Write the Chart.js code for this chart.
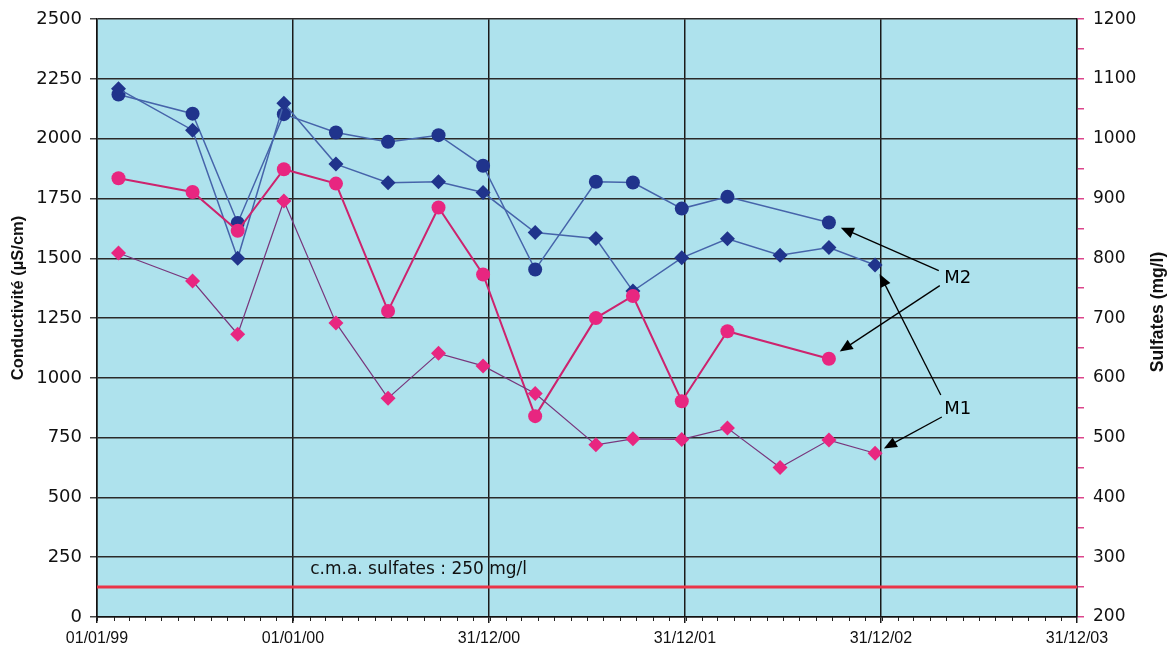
<!DOCTYPE html>
<html>
<head>
<meta charset="utf-8">
<script src="https://cdn.jsdelivr.net/npm/chart.js@4"></script>
<style>
  html, body { margin: 0; padding: 0; background: #fff; }
  #wrap { width: 1172px; height: 653px; }
</style>
</head>
<body>
<div id="wrap"><canvas id="myChart" width="1172" height="653"></canvas></div>
<script>
// sampling dates (dd/mm/yy)
const sampleDates = ['10/02/99', '28/06/99', '20/09/99', '15/12/99', '21/03/00', '26/06/00', '28/09/00', '20/12/00',
                     '27/03/01', '18/07/01', '25/09/01', '25/12/01', '20/03/02', '26/06/02', '25/09/02', '20/12/02'];

// conductivity (µS/cm)
const condM1 = [2209, 2036, 1500, 2148, 1894, 1816, 1820, 1775, 1608, 1583, 1363, 1502, 1582, 1513, 1545, 1472];
const condM2 = [2185, 2105, 1648, 2103, 2026, 1987, 2015, 1887, 1453, 1820, 1817, 1708, 1757, null, 1650, null];

// sulfates (mg/l)
const sulfM1 = [809, 762, 673, 896, 692, 566, 641, 620, 574, 488, 498, 497, 516, 450, 496, 474];
const sulfM2 = [934, 911, 846, 949, 925, 712, 885, 773, 536, 700, 737, 561, 678, null, 632, null];

// c.m.a. sulfates
const sulfLimit = 250;

const xTickLabels = ['01/01/99', '01/01/00', '31/12/00', '31/12/01', '31/12/02', '31/12/03'];

// days since 01/01/99
const T0 = Date.UTC(1999, 0, 1);
function toDay(s) {
  const [d, m, y] = s.split('/').map(Number);
  return (Date.UTC(y > 50 ? 1900 + y : 2000 + y, m - 1, d) - T0) / 864e5;
}
const days = sampleDates.map(toDay);
const xTicks = xTickLabels.map(toDay);
const pts = vals => vals.map((v, i) => ({ x: days[i], y: v }));

const BG = 'rgb(174,226,237)';
const NAVY = 'rgb(32,52,140)';
const PINK = 'rgb(232,38,128)';

const chartDecor = {
  id: 'chartDecor',
  beforeDraw(chart) {
    const { ctx, chartArea: a } = chart;
    ctx.save();
    ctx.fillStyle = BG;
    ctx.fillRect(a.left, a.top, a.right - a.left, a.bottom - a.top);
    ctx.restore();
  },
  afterDraw(chart) {
    const { ctx, chartArea: a, scales } = chart;
    const x = scales.x, y = scales.y, y1 = scales.y1;
    ctx.save();

    // monthly minor ticks under the time axis
    ctx.strokeStyle = '#222';
    ctx.lineWidth = 1;
    for (let yr = 1999; yr <= 2003; yr++) {
      for (let m = 0; m < 12; m++) {
        const px = Math.round(x.getPixelForValue((Date.UTC(yr, m, 1) - T0) / 864e5)) + 0.5;
        ctx.beginPath();
        ctx.moveTo(px, a.bottom);
        ctx.lineTo(px, a.bottom + 4);
        ctx.stroke();
      }
    }

    // limit label
    ctx.fillStyle = '#111';
    ctx.font = '17px "DejaVu Sans"';
    ctx.textAlign = 'left';
    ctx.textBaseline = 'alphabetic';
    ctx.fillText('c.m.a. sulfates : ' + sulfLimit + ' mg/l', x.getPixelForValue(397), y1.getPixelForValue(sulfLimit) - 13);

    // M1 / M2 callouts
    const last = (vals) => { let i = vals.length - 1; while (vals[i] == null) i--; return i; };
    const callouts = [
      { text: 'M2', lx: 1603, ly: 1415, targets: [
        { scale: y, vals: condM2, tail: [-19, -8], gap: 13 },
        { scale: y1, vals: sulfM2, tail: [-18, 7], gap: 13 } ] },
      { text: 'M1', lx: 1603, ly: 870, targets: [
        { scale: y, vals: condM1, tail: [-17, -14], gap: 10 },
        { scale: y1, vals: sulfM1, tail: [-16, 8], gap: 10 } ] }
    ];
    ctx.font = '18px "DejaVu Sans"';
    ctx.textAlign = 'center';
    ctx.textBaseline = 'middle';
    ctx.strokeStyle = '#000';
    ctx.fillStyle = '#000';
    ctx.lineWidth = 1.3;
    callouts.forEach(c => {
      const cx = x.getPixelForValue(c.lx), cy = y.getPixelForValue(c.ly);
      ctx.fillText(c.text, cx, cy);
      c.targets.forEach(t => {
        const i = last(t.vals);
        const px = x.getPixelForValue(days[i]), py = t.scale.getPixelForValue(t.vals[i]);
        const tx = cx + t.tail[0], ty = cy + t.tail[1];
        const dx = tx - px, dy = ty - py, len = Math.hypot(dx, dy);
        const ux = dx / len, uy = dy / len;
        const hx = px + ux * t.gap, hy = py + uy * t.gap;
        ctx.beginPath();
        ctx.moveTo(tx, ty);
        ctx.lineTo(hx + ux * 10, hy + uy * 10);
        ctx.stroke();
        // arrow head
        ctx.beginPath();
        ctx.moveTo(hx, hy);
        ctx.lineTo(hx + ux * 13 - uy * 5.5, hy + uy * 13 + ux * 5.5);
        ctx.lineTo(hx + ux * 13 + uy * 5.5, hy + uy * 13 - ux * 5.5);
        ctx.closePath();
        ctx.fill();
      });
    });

    // axis titles, both read bottom to top
    ctx.font = 'bold 16.5px "Liberation Sans"';
    ctx.fillStyle = '#111';
    ctx.textAlign = 'center';
    ctx.textBaseline = 'middle';
    ctx.save();
    ctx.translate(18, 298);
    ctx.rotate(-Math.PI / 2);
    ctx.fillText('Conductivité (µS/cm)', 0, 0);
    ctx.restore();
    ctx.save();
    ctx.font = 'bold 17.5px "Liberation Sans"';
    ctx.translate(1158, 312);
    ctx.rotate(-Math.PI / 2);
    ctx.fillText('Sulfates (mg/l)', 0, 0);
    ctx.restore();

    ctx.restore();
  }
};

new Chart(document.getElementById('myChart'), {
  type: 'line',
  data: {
    datasets: [
      {
        label: 'c.m.a.',
        data: [{ x: 0, y: sulfLimit }, { x: xTicks[xTicks.length - 1], y: sulfLimit }],
        yAxisID: 'y1',
        borderColor: 'rgb(234,52,72)',
        borderWidth: 3,
        pointRadius: 0
      },
      {
        label: 'Sulfates M1',
        data: pts(sulfM1),
        yAxisID: 'y1',
        borderColor: 'rgb(120,55,125)',
        borderWidth: 1.2,
        pointStyle: 'rectRot',
        pointRadius: 7.5,
        pointBackgroundColor: PINK,
        pointBorderColor: PINK,
        pointBorderWidth: 0
      },
      {
        label: 'Sulfates M2',
        data: pts(sulfM2),
        yAxisID: 'y1',
        spanGaps: true,
        borderColor: 'rgb(205,35,110)',
        borderWidth: 2,
        pointStyle: 'circle',
        pointRadius: 7,
        pointBackgroundColor: PINK,
        pointBorderColor: PINK,
        pointBorderWidth: 0
      },
      {
        label: 'Conductivité M1',
        data: pts(condM1),
        yAxisID: 'y',
        borderColor: 'rgb(70,100,170)',
        borderWidth: 1.5,
        pointStyle: 'rectRot',
        pointRadius: 7.5,
        pointBackgroundColor: NAVY,
        pointBorderColor: NAVY,
        pointBorderWidth: 0
      },
      {
        label: 'Conductivité M2',
        data: pts(condM2),
        yAxisID: 'y',
        spanGaps: true,
        borderColor: 'rgb(70,100,170)',
        borderWidth: 1.5,
        pointStyle: 'circle',
        pointRadius: 7,
        pointBackgroundColor: NAVY,
        pointBorderColor: NAVY,
        pointBorderWidth: 0
      }
    ]
  },
  options: {
    responsive: false,
    animation: false,
    layout: { padding: { top: 19, left: 0, right: 0, bottom: 0 } },
    plugins: { legend: { display: false }, tooltip: { enabled: false } },
    elements: { line: { tension: 0 } },
    scales: {
      x: {
        type: 'linear',
        min: xTicks[0],
        max: xTicks[xTicks.length - 1],
        afterBuildTicks: s => { s.ticks = xTicks.map(v => ({ value: v })); },
        afterFit: s => { s.height = 36; },
        ticks: {
          autoSkip: false, maxRotation: 0, padding: 6,
          color: '#111',
          font: { family: 'Liberation Sans', size: 16 },
          callback: (v, i) => xTickLabels[i]
        },
        grid: { color: '#1a1a1a', lineWidth: 1.5, tickLength: 6, tickColor: '#1a1a1a' },
        border: { color: '#111', width: 1.5 }
      },
      y: {
        position: 'left',
        min: 0, max: 2500,
        afterFit: s => { s.width = 97; },
        ticks: {
          stepSize: 250, padding: 8, color: '#111',
          font: { family: 'DejaVu Sans', size: 18 },
          callback: v => String(v)
        },
        grid: { color: '#2a2a2a', lineWidth: 1.5, tickLength: 7, tickColor: '#444' },
        border: { color: '#111', width: 1.5 }
      },
      y1: {
        position: 'right',
        min: 200, max: 1200,
        afterFit: s => { s.width = 95; },
        ticks: {
          stepSize: 50, autoSkip: false, padding: 9, color: '#111',
          font: { family: 'DejaVu Sans', size: 17 },
          callback: v => (v % 100 === 0 ? String(v) : '')
        },
        grid: { drawOnChartArea: false, tickLength: 7, tickColor: 'rgb(220,70,140)', lineWidth: 1.5 },
        border: { color: '#111', width: 1.5 }
      }
    }
  },
  plugins: [chartDecor]
});
</script>
</body>
</html>
